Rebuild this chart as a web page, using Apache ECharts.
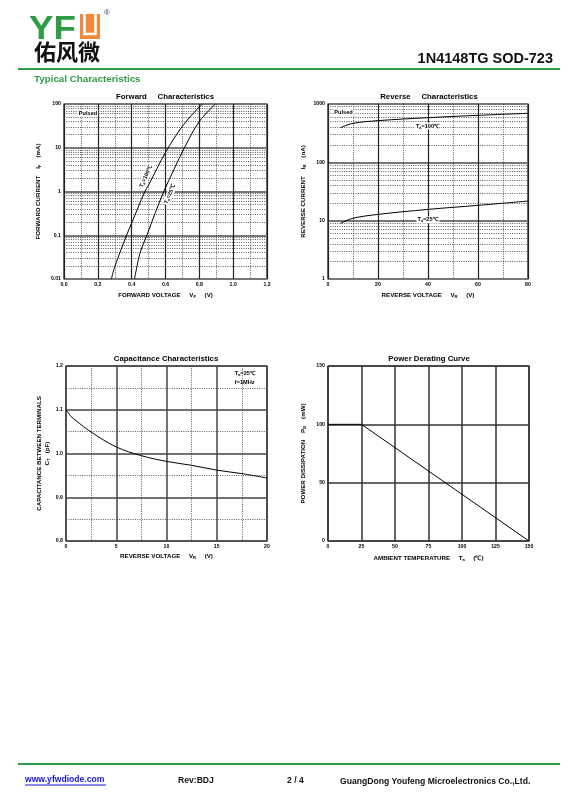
<!DOCTYPE html>
<html>
<head>
<meta charset="utf-8">
<script src="https://cdn.jsdelivr.net/npm/echarts@6/dist/echarts.min.js"></script>
<style>
  html, body { margin: 0; padding: 0; background: #fff; }
  #chart { width: 568px; height: 808px; }
</style>
</head>
<body>
<div id="chart"></div>
<script>
// forward characteristics: VF (V) vs IF (mA)
const fwdV25 = [0.417, 0.45, 0.49, 0.54, 0.59, 0.65, 0.712, 0.8, 0.895];
const fwdI25 = [0.01, 0.04, 0.1, 0.33, 1, 3.2, 10, 40, 100];
const fwdV100 = [0.28, 0.3, 0.37, 0.4, 0.478, 0.5, 0.6, 0.7, 0.8, 0.822];
const fwdI100 = [0.01, 0.019, 0.1, 0.19, 1, 1.4, 7.8, 31, 86, 100];

// reverse characteristics: VR (V) vs IR (nA)
const revV = [5, 10, 20, 40, 60, 80];
const revI25 = [9.0, 11, 12.8, 15.6, 18.3, 21.7];
const revI100 = [393, 466, 518, 583, 640, 692];

// capacitance: VR (V) vs CT (pF)
const capV = [0, 0.5, 1, 2.5, 5, 7.5, 10, 12.5, 15, 17.5, 20];
const capC = [1.1, 1.085, 1.075, 1.049, 1.015, 0.995, 0.982, 0.973, 0.962, 0.954, 0.944];

// power derating: Ta (C) vs PD (mW)
const pwrT = [0, 25, 150];
const pwrP = [100, 100, 0];

// decades used for the log paper
const fwdDecades = [0.01, 0.1, 1, 10];
const revDecades = [1, 10, 100];

const FONT = '"Liberation Sans", Arial, sans-serif';
const GREEN = '#2f9d46';

const zip = (xs, ys) => xs.map((x, i) => [x, ys[i]]);

// dotted lines at 2..9 of each decade
function logMinor(decades) {
  const out = [];
  decades.forEach(d => {
    for (let k = 2; k < 10; k++) out.push({ yAxis: +(k * d).toPrecision(3) });
  });
  return out;
}

const rich = {
  m: { fontSize: 6.2, fontWeight: 'bold', fontFamily: FONT, color: '#000', lineHeight: 8 },
  s: { fontSize: 4.2, fontWeight: 'bold', fontFamily: FONT, color: '#000', lineHeight: 8, verticalAlign: 'bottom' }
};
const tagRich = {
  m: { fontSize: 5.6, fontWeight: 'bold', fontFamily: FONT, color: '#000', lineHeight: 7 },
  s: { fontSize: 3.8, fontWeight: 'bold', fontFamily: FONT, color: '#000', lineHeight: 7, verticalAlign: 'bottom' }
};

const tickLabel = { fontSize: 5.2, fontWeight: 'bold', fontFamily: FONT, color: '#000', margin: 3 };
const minorDotted = { show: true, lineStyle: { color: '#333', width: 0.8, type: [1, 1.3] } };

// small text note placed at a data coordinate
function tag(coord, text, label) {
  return {
    coord: coord,
    symbol: 'circle',
    symbolSize: 0,
    label: Object.assign({
      show: true, position: 'inside', formatter: text, rich: tagRich,
      backgroundColor: '#fff', padding: [0, 1]
    }, label || {})
  };
}

const markMinor = (decades) => ({
  silent: true, symbol: ['none', 'none'], label: { show: false },
  lineStyle: { color: '#333', width: 0.8, type: [1, 1.3] },
  data: logMinor(decades)
});

const curve = (xi, data, extra) => Object.assign({
  type: 'line', xAxisIndex: xi, yAxisIndex: xi, data: data,
  symbol: 'none', smooth: 0.35,
  lineStyle: { color: '#000', width: 1 }, z: 5
}, extra || {});

const centered = (x, y, text, size) => ({
  type: 'text', x: x, y: y,
  style: { text: text, font: 'bold ' + size + 'px ' + FONT, fill: '#000', align: 'center', textAlign: 'center', verticalAlign: 'middle', textVerticalAlign: 'middle' }
});
const plain = (x, y, text, font, fill) => ({
  type: 'text', x: x, y: y,
  style: { text: text, font: font, fill: fill || '#111', verticalAlign: 'middle', textVerticalAlign: 'middle' }
});

const chart = echarts.init(document.getElementById('chart'));

const option = {
  animation: false,
  backgroundColor: '#fff',
  grid: [
    { left: 64, top: 104, width: 203, height: 175, show: true, borderColor: '#111', borderWidth: 1.2 },
    { left: 328, top: 104, width: 200, height: 175, show: true, borderColor: '#111', borderWidth: 1.2 },
    { left: 66, top: 366, width: 201, height: 175, show: true, borderColor: '#111', borderWidth: 1.2 },
    { left: 328, top: 366, width: 201, height: 175, show: true, borderColor: '#111', borderWidth: 1.2 }
  ],
  xAxis: [
    {
      gridIndex: 0, type: 'value', min: 0, max: 1.2, interval: 0.2,
      axisLine: { show: false }, axisTick: { show: false },
      axisLabel: Object.assign({ formatter: v => v.toFixed(1) }, tickLabel),
      splitLine: { lineStyle: { color: '#222', width: 1.2 } },
      minorTick: { show: false, splitNumber: 2 }, minorSplitLine: minorDotted,
      name: '{m|FORWARD VOLTAGE     V}{s|F}{m|     (V)}', nameLocation: 'middle', nameGap: 12,
      nameTextStyle: { rich: rich }
    },
    {
      gridIndex: 1, type: 'value', min: 0, max: 80, interval: 20,
      axisLine: { show: false }, axisTick: { show: false },
      axisLabel: tickLabel,
      splitLine: { lineStyle: { color: '#222', width: 1.2 } },
      minorTick: { show: false, splitNumber: 2 }, minorSplitLine: minorDotted,
      name: '{m|REVERSE VOLTAGE     V}{s|R}{m|     (V)}', nameLocation: 'middle', nameGap: 12,
      nameTextStyle: { rich: rich }
    },
    {
      gridIndex: 2, type: 'value', min: 0, max: 20, interval: 5,
      axisLine: { show: false }, axisTick: { show: false },
      axisLabel: tickLabel,
      splitLine: { lineStyle: { color: '#444', width: 1.5 } },
      minorTick: { show: false, splitNumber: 2 }, minorSplitLine: minorDotted,
      name: '{m|REVERSE VOLTAGE     V}{s|R}{m|     (V)}', nameLocation: 'middle', nameGap: 11,
      nameTextStyle: { rich: rich }
    },
    {
      gridIndex: 3, type: 'value', min: 0, max: 150, interval: 25,
      axisLine: { show: false }, axisTick: { show: false },
      axisLabel: tickLabel,
      splitLine: { lineStyle: { color: '#333', width: 1.5 } },
      name: '{m|AMBIENT TEMPERATURE     T}{s|a}{m|     (\u2103)}', nameLocation: 'middle', nameGap: 13,
      nameTextStyle: { rich: rich }
    }
  ],
  yAxis: [
    {
      gridIndex: 0, type: 'log', logBase: 10, min: 0.01, max: 100, interval: 1,
      axisLine: { show: false }, axisTick: { show: false },
      axisLabel: Object.assign({ formatter: v => String(+v.toPrecision(3)) }, tickLabel),
      splitLine: { lineStyle: { color: '#777', width: 2 } },
      name: '{m|FORWARD CURRENT    I}{s|F}{m|    (mA)}', nameLocation: 'middle', nameGap: 22,
      nameRotate: 90, nameTextStyle: { rich: rich }
    },
    {
      gridIndex: 1, type: 'log', logBase: 10, min: 1, max: 1000, interval: 1,
      axisLine: { show: false }, axisTick: { show: false },
      axisLabel: Object.assign({ formatter: v => String(+v.toPrecision(3)) }, tickLabel),
      splitLine: { lineStyle: { color: '#777', width: 2 } },
      name: '{m|REVERSE CURRENT    I}{s|R}{m|    (nA)}', nameLocation: 'middle', nameGap: 21,
      nameRotate: 90, nameTextStyle: { rich: rich }
    },
    {
      gridIndex: 2, type: 'value', min: 0.8, max: 1.2, interval: 0.1,
      axisLine: { show: false }, axisTick: { show: false },
      axisLabel: Object.assign({ formatter: v => v.toFixed(1) }, tickLabel),
      splitLine: { lineStyle: { color: '#444', width: 1.5 } },
      minorTick: { show: false, splitNumber: 2 }, minorSplitLine: minorDotted,
      name: '{m|CAPACITANCE BETWEEN TERMINALS}\n{m|C}{s|T}{m|   (pF)}', nameLocation: 'middle', nameGap: 15,
      nameRotate: 90, nameTextStyle: { rich: rich }
    },
    {
      gridIndex: 3, type: 'value', min: 0, max: 150, interval: 50,
      axisLine: { show: false }, axisTick: { show: false },
      axisLabel: tickLabel,
      splitLine: { lineStyle: { color: '#333', width: 1.5 } },
      name: '{m|POWER DISSIPATION    P}{s|D}{m|    (mW)}', nameLocation: 'middle', nameGap: 21,
      nameRotate: 90, nameTextStyle: { rich: rich }
    }
  ],
  series: [
    curve(0, zip(fwdV100, fwdI100), {
      markLine: markMinor(fwdDecades),
      markPoint: {
        data: [
          tag([0.142, 62], '{m|Pulsed}'),
          tag([0.485, 2.26], '{m|T}{s|a}{m|=100\u2103}', { rotate: 66 })
        ]
      }
    }),
    curve(0, zip(fwdV25, fwdI25), {
      markPoint: { data: [tag([0.627, 0.88], '{m|T}{s|a}{m|=25\u2103}', { rotate: 66 })] }
    }),
    curve(1, zip(revV, revI100), {
      markLine: markMinor(revDecades),
      markPoint: {
        data: [
          tag([6.2, 709], '{m|Pulsed}'),
          tag([40, 420], '{m|T}{s|a}{m|=100\u2103}')
        ]
      }
    }),
    curve(1, zip(revV, revI25), {
      markPoint: { data: [tag([40, 10.3], '{m|T}{s|a}{m|=25\u2103}')] }
    }),
    curve(2, zip(capV, capC), {
      markPoint: {
        data: [
          tag([16.7, 1.182], '{m|T}{s|a}{m|=25\u2103}', { position: 'right', distance: 0, backgroundColor: 'transparent' }),
          tag([16.7, 1.162], '{m|f=1MHz}', { position: 'right', distance: 0, backgroundColor: 'transparent' })
        ]
      }
    }),
    curve(3, zip(pwrT, pwrP), { smooth: false })
  ],
  graphic: [
    // logo
    { type: 'text', x: 29, y: 30, scaleX: 1.08, style: { text: 'YF', font: 'bold 34px ' + FONT, fill: GREEN, verticalAlign: 'middle', textVerticalAlign: 'middle' } },
    { type: 'rect', shape: { x: 80, y: 14, width: 20, height: 25 }, style: { fill: '#f08a3a' } },
    { type: 'polyline', shape: { points: [[84.5, 14], [84.5, 34], [95.5, 34], [95.5, 14]] }, style: { stroke: '#fff', lineWidth: 2.6, fill: null } },
    { type: 'text', x: 104, y: 9, style: { text: '\u00ae', font: '8px ' + FONT, fill: '#444' } },
    plain(34, 52, '\u4f51\u98ce\u5fae', 'bold 22px "Noto Sans CJK SC"'),
    { type: 'text', x: 553, y: 59, style: { text: '1N4148TG SOD-723', font: 'bold 14.5px ' + FONT, fill: '#111', align: 'right', textAlign: 'right', verticalAlign: 'middle', textVerticalAlign: 'middle' } },
    { type: 'line', shape: { x1: 18, y1: 69, x2: 560, y2: 69 }, style: { stroke: GREEN, lineWidth: 2 } },
    plain(34, 79, 'Typical Characteristics', 'bold 9.8px ' + FONT, GREEN),

    // chart titles
    centered(165, 97, 'Forward     Characteristics', 7.8),
    centered(429, 97, 'Reverse     Characteristics', 7.8),
    centered(166, 359, 'Capacitance Characteristics', 7.8),
    centered(429, 359, 'Power Derating Curve', 7.8),

    // footer
    { type: 'line', shape: { x1: 18, y1: 764, x2: 560, y2: 764 }, style: { stroke: GREEN, lineWidth: 2 } },
    plain(25, 780, 'www.yfwdiode.com', 'bold 8.6px ' + FONT, '#1515e0'),
    { type: 'line', shape: { x1: 25, y1: 785, x2: 106, y2: 785 }, style: { stroke: '#1515e0', lineWidth: 1 } },
    plain(178, 781, 'Rev:BDJ', 'bold 8.6px ' + FONT),
    plain(287, 781, '2 / 4', 'bold 8.6px ' + FONT),
    plain(340, 782, 'GuangDong Youfeng Microelectronics Co.,Ltd.', 'bold 8.6px ' + FONT)
  ]
};

chart.setOption(option);
</script>
</body>
</html>
